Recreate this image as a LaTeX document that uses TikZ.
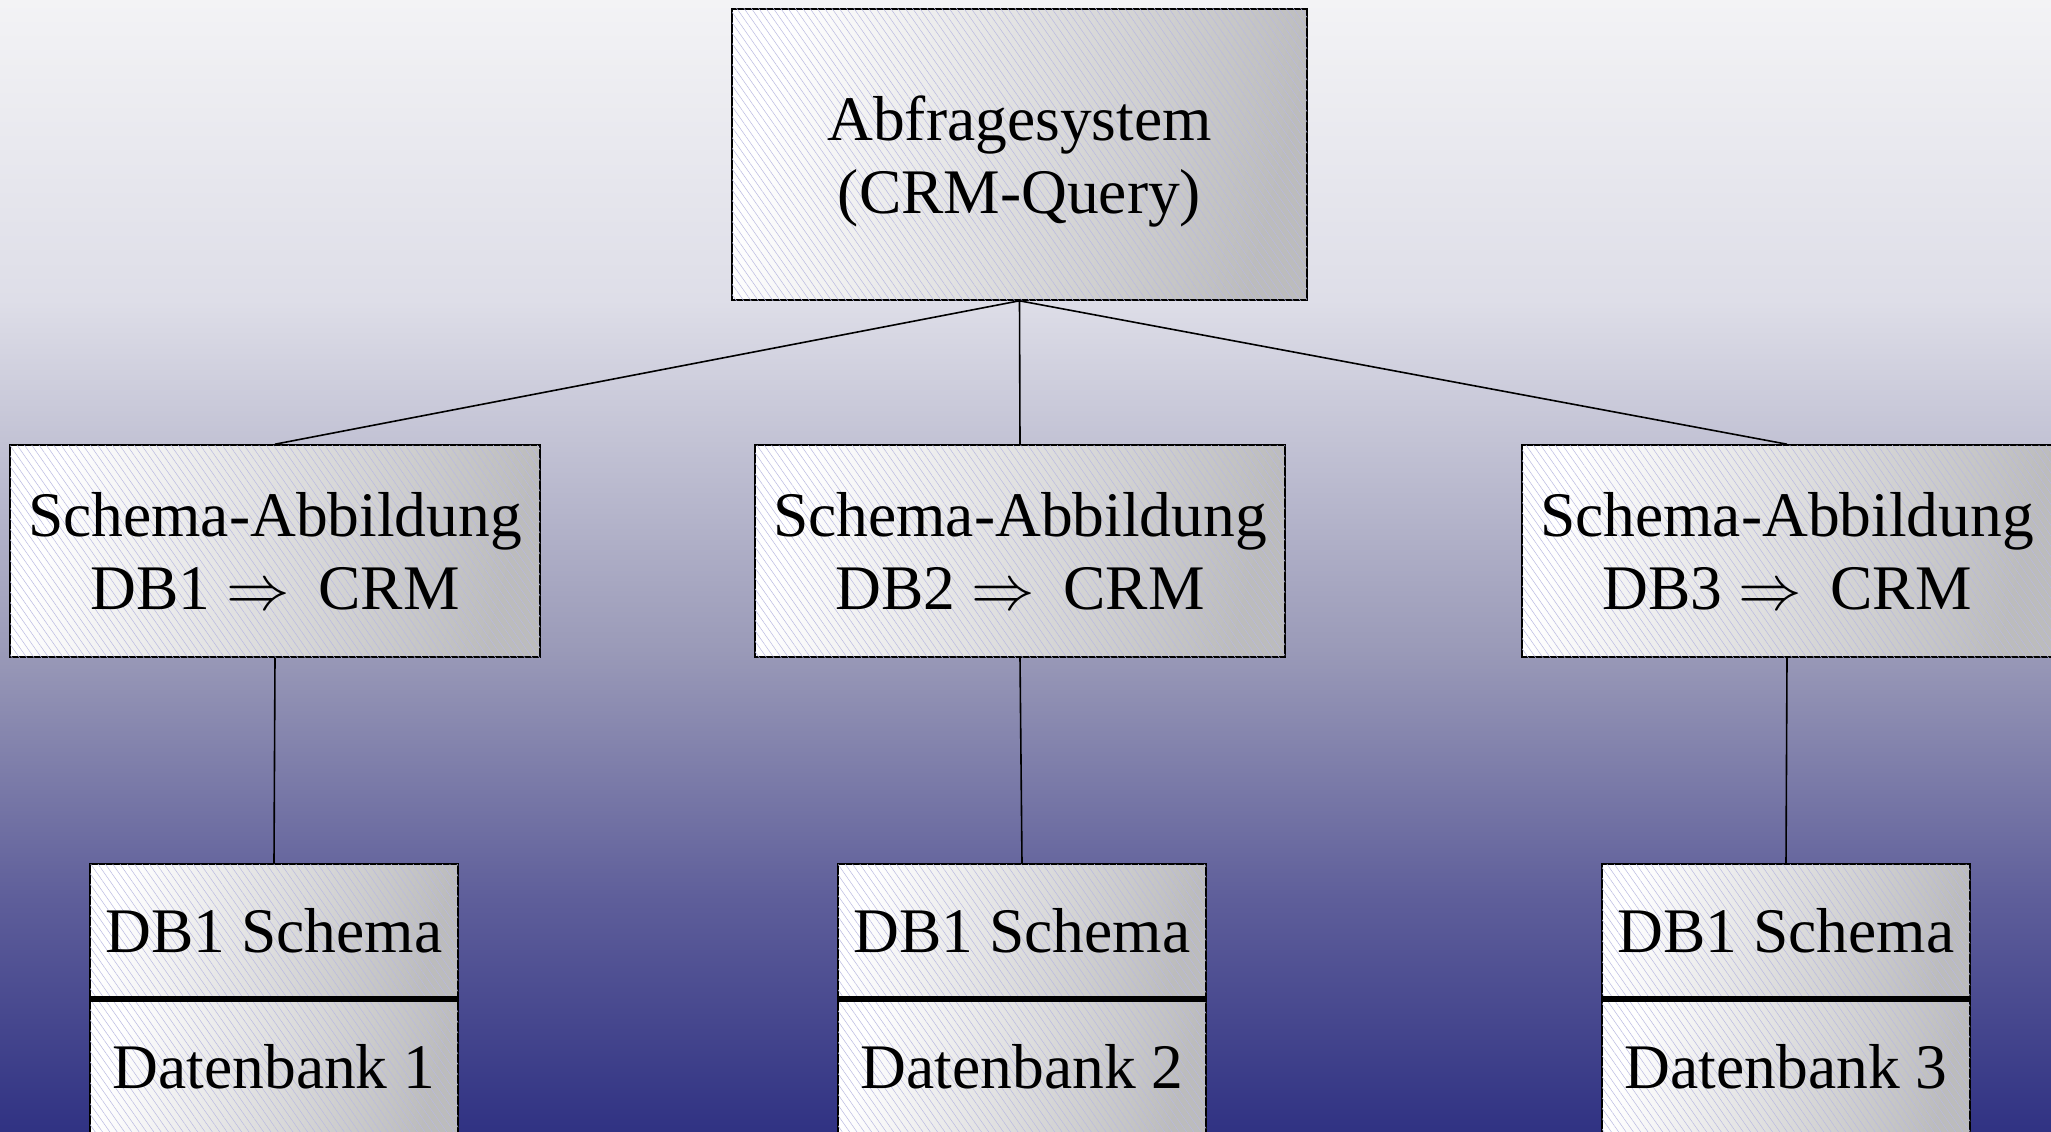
\documentclass[tikz,border=0pt]{standalone}
\usepackage{fix-cm}
\usepackage{fontspec}
\setmainfont{Liberation Serif}
\usetikzlibrary{patterns.meta}
\definecolor{bgA}{RGB}{243,243,245}
\definecolor{bgB}{RGB}{222,222,232}
\definecolor{bgC}{RGB}{154,154,184}
\definecolor{bgD}{RGB}{94,94,154}
\definecolor{bgE}{RGB}{48,50,131}
\definecolor{boxgray}{RGB}{188,188,188}
\definecolor{hatch}{RGB}{185,185,225}
\tikzset{
  box/.style={draw=black, line width=1.6pt, inner sep=0pt, align=center,
    font=\fontsize{63.5}{73}\selectfont,
    shading=axis, left color=white, right color=boxgray, shading angle=75,
    postaction={pattern={Lines[angle=-55,distance=6pt,line width=0.5pt]}, pattern color=hatch, fill opacity=0.6}},
  topbox/.style={box, minimum width=575pt, minimum height=291pt},
  midbox/.style={box, minimum width=530pt, minimum height=212pt},
  dbtop/.style={box, minimum width=368pt, minimum height=134pt},
  dbbot/.style={box, minimum width=368pt, minimum height=138pt},
  link/.style={draw=black, line width=1.6pt},
  divider/.style={draw=black, line width=5.5pt}
}
\newcommand{\maparrow}{\ensuremath{\Rightarrow}}
\begin{document}
\begin{tikzpicture}[x=1pt, y=-1pt]
\useasboundingbox (0,0) rectangle (2051,1132);
% background
\shade[top color=bgA, bottom color=bgB] (0,0) rectangle (2051,300);
\shade[top color=bgB, bottom color=bgC] (0,299.5) rectangle (2051,650);
\shade[top color=bgC, bottom color=bgD] (0,649.5) rectangle (2051,900);
\shade[top color=bgD, bottom color=bgE] (0,899.5) rectangle (2051,1132);

\node[topbox] (q) at (1019.5,154.5) {\raisebox{-8pt}[\height][\depth]{\begin{tabular}{@{}c@{}}Abfragesystem\\(CRM-Query)\end{tabular}}};

\node[midbox] (m1) at (275,551) {Schema-Abbildung\\DB1 \maparrow\hspace{0.45em}CRM};
\node[midbox] (m2) at (1020,551) {Schema-Abbildung\\DB2 \maparrow\hspace{0.45em}CRM};
\node[midbox] (m3) at (1787,551) {Schema-Abbildung\\DB3 \maparrow\hspace{0.45em}CRM};

\node[dbtop] (s1) at (274,931) {DB1 Schema};
\node[dbbot] (d1) at (274,1067) {Datenbank 1};
\node[dbtop] (s2) at (1022,931) {DB1 Schema};
\node[dbbot] (d2) at (1022,1067) {Datenbank 2};
\node[dbtop] (s3) at (1786,931) {DB1 Schema};
\node[dbbot] (d3) at (1786,1067) {Datenbank 3};

\draw[divider] (s1.south west) -- (s1.south east);
\draw[divider] (s2.south west) -- (s2.south east);
\draw[divider] (s3.south west) -- (s3.south east);

\draw[link] (q.south) -- (m1.north);
\draw[link] (q.south) -- (m2.north);
\draw[link] (q.south) -- (m3.north);
\draw[link] (m1.south) -- (s1.north);
\draw[link] (m2.south) -- (s2.north);
\draw[link] (m3.south) -- (s3.north);
\end{tikzpicture}
\end{document}
